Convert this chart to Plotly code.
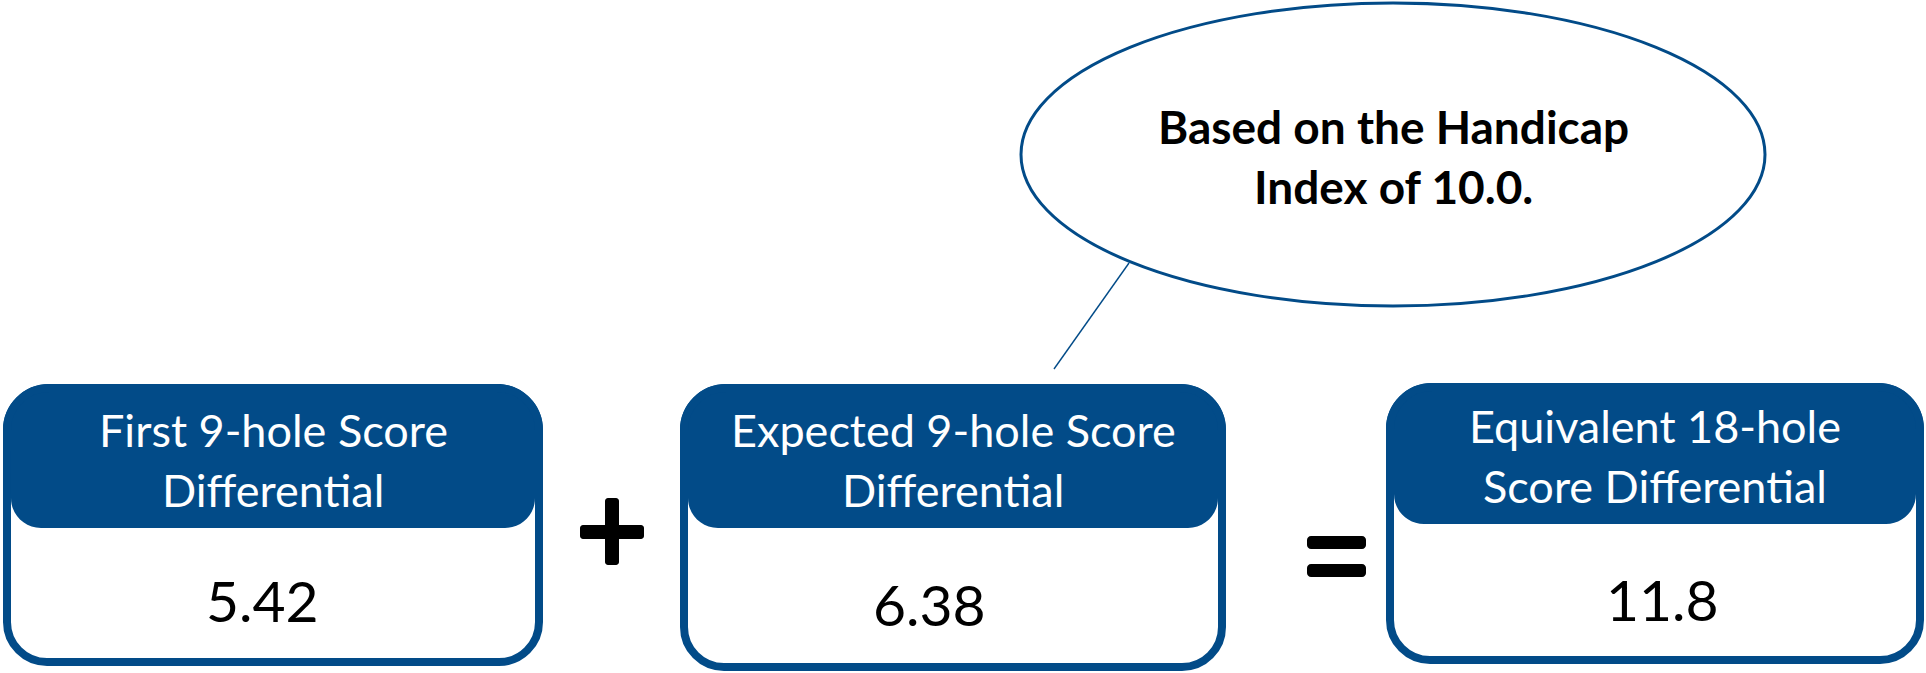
import plotly.graph_objects as go

# Diagram content
header_lines = [
    ["First 9-hole Score", "Differential"],
    ["Expected 9-hole Score", "Differential"],
    ["Equivalent 18-hole", "Score Differential"],
]
values = [5.42, 6.38, 11.8]
bubble_lines = ["Based on the Handicap", "Index of 10.0."]

W, H = 1926, 673
BLUE = "#024B88"
K = 0.5523  # cubic bezier constant for quarter circles

# box geometry: left, right, top, bottom, header bottom
boxes = [
    (3, 543, 384, 666, 528),
    (680, 1226, 384, 671, 528),
    (1386, 1924, 383, 664, 524),
]
header_mid = [(430, 490), (430, 490), (426, 486)]
value_pos = [(262, 600), (929, 604), (1662, 599)]
BW = 8        # border width
R_TOP = 46    # outer radius of top corners
R_BOT = 44    # outer radius of bottom corners
R_HDR = 30    # radius of header bottom corners


def rounded_rect(x0, x1, y0, y1, rt, rb):
    kt, kb = rt * K, rb * K
    return (
        f"M {x0},{y0 + rt} "
        f"C {x0},{y0 + rt - kt} {x0 + rt - kt},{y0} {x0 + rt},{y0} "
        f"L {x1 - rt},{y0} "
        f"C {x1 - rt + kt},{y0} {x1},{y0 + rt - kt} {x1},{y0 + rt} "
        f"L {x1},{y1 - rb} "
        f"C {x1},{y1 - rb + kb} {x1 - rb + kb},{y1} {x1 - rb},{y1} "
        f"L {x0 + rb},{y1} "
        f"C {x0 + rb - kb},{y1} {x0},{y1 - rb + kb} {x0},{y1 - rb} Z"
    )


def header_path(x0, x1, y0, yb):
    rt, rh = R_TOP, R_HDR
    kt, kh = rt * K, rh * K
    a, b = x1 - BW, x0 + BW
    return (
        f"M {x0},{y0 + rt} "
        f"C {x0},{y0 + rt - kt} {x0 + rt - kt},{y0} {x0 + rt},{y0} "
        f"L {x1 - rt},{y0} "
        f"C {x1 - rt + kt},{y0} {x1},{y0 + rt - kt} {x1},{y0 + rt} "
        f"L {x1},{yb - rh} L {a},{yb - rh} "
        f"C {a},{yb - rh + kh} {a - rh + kh},{yb} {a - rh},{yb} "
        f"L {b + rh},{yb} "
        f"C {b + rh - kh},{yb} {b},{yb - rh + kh} {b},{yb - rh} "
        f"L {x0},{yb - rh} Z"
    )


shapes = []
annotations = []

for (x0, x1, y0, y1, yb), lines, (m1, m2), val, (vx, vy) in zip(
    boxes, header_lines, header_mid, values, value_pos
):
    shapes.append(dict(type="path", path=header_path(x0, x1, y0, yb),
                       fillcolor=BLUE, line=dict(width=0), layer="above"))
    h = BW / 2
    shapes.append(dict(type="path",
                       path=rounded_rect(x0 + h, x1 - h, y0 + h, y1 - h,
                                         R_TOP - h, R_BOT - h),
                       line=dict(color=BLUE, width=BW), layer="above"))
    cx = (x0 + x1) / 2
    for txt, my in zip(lines, (m1, m2)):
        annotations.append(dict(x=cx, y=my, text=txt, showarrow=False,
                                xanchor="center", yanchor="middle",
                                font=dict(family="Lato", size=45, color="white")))
    annotations.append(dict(x=vx, y=vy, text=f"{val}", showarrow=False,
                            xanchor="center", yanchor="middle",
                            font=dict(family="Lato", size=57, color="black")))


def small_rect(x0, x1, y0, y1, r):
    return rounded_rect(x0, x1, y0, y1, r, r)


# plus sign
shapes.append(dict(type="path", path=small_rect(580, 644, 525, 539, 3),
                   fillcolor="black", line=dict(width=0)))
shapes.append(dict(type="path", path=small_rect(605, 619, 498, 565, 3),
                   fillcolor="black", line=dict(width=0)))
# equals sign
shapes.append(dict(type="path", path=small_rect(1307, 1366, 536, 549, 4),
                   fillcolor="black", line=dict(width=0)))
shapes.append(dict(type="path", path=small_rect(1307, 1366, 564, 577, 4),
                   fillcolor="black", line=dict(width=0)))

# speech bubble and its pointer
shapes.append(dict(type="line", x0=1129, y0=263, x1=1054, y1=369,
                   line=dict(color=BLUE, width=1.4)))
shapes.append(dict(type="circle", x0=1021, x1=1765, y0=3, y1=306,
                   fillcolor="white", line=dict(color=BLUE, width=3)))
for txt, my in zip(bubble_lines, (126, 186)):
    annotations.append(dict(x=1393, y=my, text=f"<b>{txt}</b>", showarrow=False,
                            xanchor="center", yanchor="middle",
                            font=dict(family="Lato", size=46, color="black")))

fig = go.Figure()
fig.update_layout(
    width=W, height=H, autosize=False,
    margin=dict(l=0, r=0, t=0, b=0, pad=0),
    paper_bgcolor="white", plot_bgcolor="white",
    xaxis=dict(range=[0, W], visible=False, fixedrange=True),
    yaxis=dict(range=[H, 0], visible=False, fixedrange=True),
    shapes=shapes, annotations=annotations, showlegend=False,
)
fig.write_html("out.html", config={"displayModeBar": False})
